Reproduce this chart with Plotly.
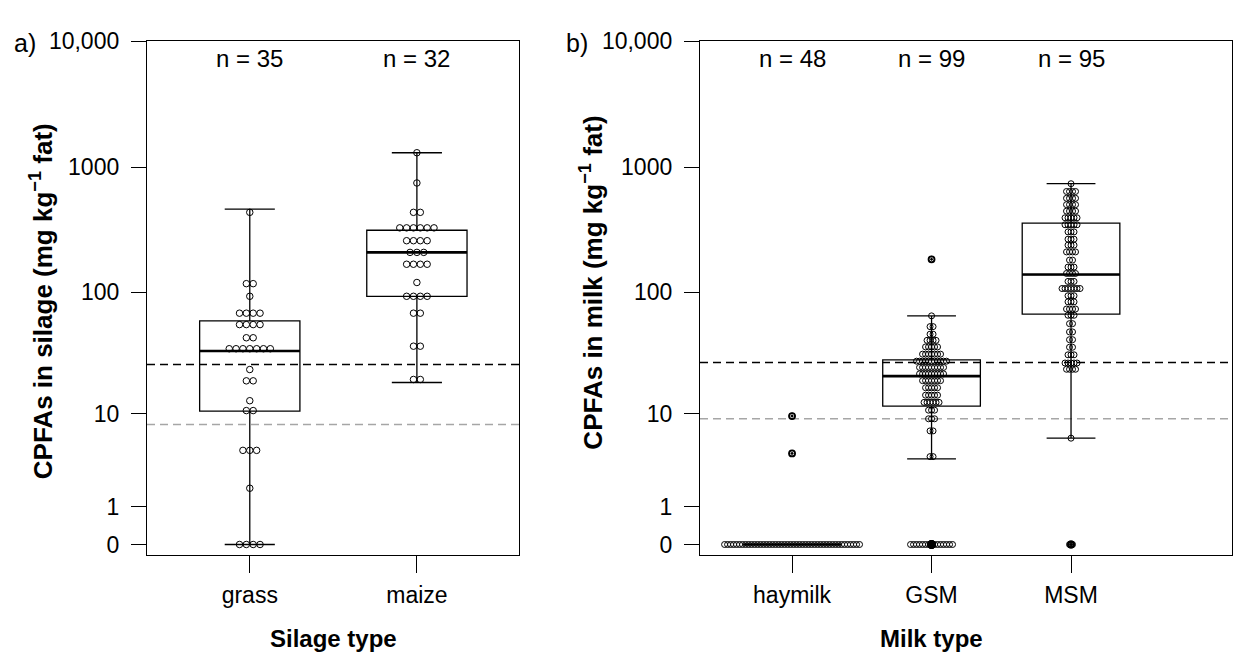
import numpy as np
import plotly.graph_objects as go

W, H = 1234, 652

# ---------------- data ----------------
silage_types = ["grass", "maize"]
silage_n = [35, 32]
grass_values = [436, 117.5, 117.5, 93, 68, 68, 68, 68, 55, 55, 55, 55, 43, 43,
                35, 35, 35, 35, 35, 35, 35, 23.6, 19, 19, 12.9, 10.6, 10.6,
                4.6, 4.6, 4.6, 1.8, 0, 0, 0, 0]
maize_values = [1300, 747, 436, 436, 328, 328, 328, 328, 328, 328, 259, 259, 259, 259,
                209, 209, 209, 168, 168, 168, 168, 120, 93, 93, 93, 93, 68, 68,
                36.7, 36.7, 19.5, 19.5]
silage_q1 = [10.5, 93]
silage_median = [33.5, 209]
silage_q3 = [59, 314]
silage_lower = [0, 18.4]
silage_upper = [462, 1300]
silage_ref_black = 26
silage_ref_gray = 8

milk_types = ["haymilk", "GSM", "MSM"]
milk_n = [48, 99, 95]
haymilk_values = [0, 0, 0, 0, 0, 0, 0, 0, 0, 0, 0, 0, 0, 0, 0, 0, 0, 0, 0, 0, 0, 0, 0,
                  0, 0, 0, 0, 0, 0, 0, 0, 0, 0, 0, 0, 0, 0, 0, 0, 0, 0, 0, 0, 0, 0, 0,
                  4.3, 9.5]
gsm_values = [0, 0, 0, 0, 0, 0, 0, 0, 0, 0, 0, 0, 0, 0, 0,
              3.8, 4.2, 6.8, 7.2, 8.5, 9.0, 9.5, 10.2, 10.8, 11.2,
              11.8, 12.0, 12.3, 12.5, 13.0, 13.2, 13.6, 14.0, 14.5, 15.0, 15.2, 15.8, 16.3,
              16.8, 17.0, 17.5, 18.0, 18.3, 18.8, 19.2, 19.5, 19.8, 20.2, 20.5, 20.8,
              21.0, 21.3, 21.5, 22.0, 22.2, 22.5, 23.0, 23.2, 23.5, 24.0, 24.3, 24.5, 25.0,
              25.2, 25.5, 26.0, 26.2, 26.5, 27.0, 27.2, 27.5, 27.8, 28.0, 28.2, 28.4,
              28.8, 29.2, 29.8, 30.5, 31.0, 31.5, 32.0, 33.0, 33.5, 34.5, 35.0, 36.0,
              37.0, 38.0, 39.0, 40.5, 42.0, 43.0, 45.0, 47.0, 51.0, 55.0, 64.7, 184]
msm_values = [0, 0, 6.0,
              22.5, 23.5, 24.5, 25.0, 25.5, 26.0, 26.5, 27.0, 28.0, 29.5, 31.0, 33.0,
              35.0, 37.0, 40.0, 43.0, 46.0, 50.0, 54.0, 58.0, 62.0,
              67, 69, 71, 73, 74, 76, 80, 85, 88, 90, 94, 98, 102, 104, 106, 107, 108,
              110, 113, 117, 122, 128, 134, 139,
              145, 150, 154, 158, 165, 175, 188, 200, 210, 218, 222, 228, 238, 250, 258,
              265, 275, 290, 305, 320, 330, 340, 350, 358,
              365, 378, 390, 395, 402, 412, 425, 440, 455, 468, 480, 495, 510, 525, 540,
              555, 570, 590, 610, 625, 640, 670, 737]
milk_q1 = [0, 11.6, 66.7]
milk_median = [0, 20.8, 139]
milk_q3 = [0, 28.4, 358]
milk_lower = [0, 3.8, 6.0]
milk_upper = [0, 64.7, 737]
milk_ref_black = 27
milk_ref_gray = 9

y_tick_values = [0, 1, 10, 100, 1000, 10000]
y_tick_labels = ["0", "1", "10", "100", "1000", "10,000"]

# ---------------- helpers ----------------
FONT = "Liberation Sans, Arial, sans-serif"


def tr(v):
    return np.log10(np.asarray(v, dtype=float) + 1.0)


def px_x(p):
    return p / W


def px_y(p):
    return 1 - p / H


def stack_dots(values, center, binw, step):
    t = np.sort(tr(values))
    xs, ys = [], []
    i = 0
    while i < len(t):
        j = i
        while j < len(t) and t[j] - t[i] <= binw:
            j += 1
        grp = t[i:j]
        yc = (grp[0] + grp[-1]) / 2
        k = len(grp)
        for m in range(k):
            xs.append(center + (m - (k - 1) / 2) * step)
            ys.append(yc)
        i = j
    return xs, ys


fig = go.Figure()


def add_panel(xa, ya, cats, groups, q1, med, q3, lo, hi, boxw, dotstep, dotsize, binw):
    pos = list(range(len(cats)))
    fig.add_trace(go.Box(
        x=pos, q1=tr(q1), median=tr(med), q3=tr(q3),
        lowerfence=tr(lo), upperfence=tr(hi),
        width=boxw, whiskerwidth=0.5, boxpoints=False,
        fillcolor="rgba(0,0,0,0)", line=dict(color="black", width=1.3),
        xaxis=xa, yaxis=ya, showlegend=False, hoverinfo="skip"))
    mx, my = [], []
    for c, m in zip(pos, med):
        mx += [c - boxw / 2, c + boxw / 2, None]
        my += [float(tr(m)), float(tr(m)), None]
    fig.add_trace(go.Scatter(x=mx, y=my, mode="lines",
                             line=dict(color="black", width=2.6),
                             xaxis=xa, yaxis=ya, showlegend=False, hoverinfo="skip"))
    dx, dy, ox, oy = [], [], [], []
    for c, vals, l, h in zip(pos, groups, lo, hi):
        xs, ys = stack_dots(vals, c, binw, dotstep)
        dx += xs
        dy += ys
        for v in vals:
            if v < l or v > h:
                ox.append(c)
                oy.append(float(tr(v)))
    fig.add_trace(go.Scatter(x=dx, y=dy, mode="markers",
                             marker=dict(symbol="circle-open", size=dotsize, color="black",
                                         line=dict(width=1)),
                             xaxis=xa, yaxis=ya, showlegend=False, hoverinfo="skip"))
    if ox:
        fig.add_trace(go.Scatter(x=ox, y=oy, mode="markers",
                                 marker=dict(symbol="circle-open-dot", size=dotsize,
                                             color="black", line=dict(width=1.8)),
                                 xaxis=xa, yaxis=ya, showlegend=False, hoverinfo="skip"))


add_panel("x", "y", silage_types, [grass_values, maize_values],
          silage_q1, silage_median, silage_q3, silage_lower, silage_upper,
          0.6, 0.041, 6.5, 0.03)
add_panel("x2", "y2", milk_types, [haymilk_values, gsm_values, msm_values],
          milk_q1, milk_median, milk_q3, milk_lower, milk_upper,
          0.7, 0.0215, 6, 0.05)

ydom = [px_y(555), px_y(29)]
yrange = [-0.0854, 4.0]

common_y = dict(range=yrange, domain=ydom, tickvals=list(tr(y_tick_values)),
                ticktext=y_tick_labels, ticks="outside", ticklen=15, tickwidth=1.3,
                tickcolor="black", showline=True, linecolor="black", linewidth=1.3,
                showgrid=False, zeroline=False, ticklabelstandoff=7,
                tickfont=dict(family=FONT, size=23, color="black"))
common_x = dict(ticks="outside", ticklen=17, tickwidth=1.3, tickcolor="black",
                showline=True, linecolor="black", linewidth=1.3, showgrid=False,
                zeroline=False, ticklabelstandoff=2,
                tickfont=dict(family=FONT, size=23, color="black"))

fig.update_layout(
    width=W, height=H, margin=dict(l=0, r=0, t=0, b=0),
    paper_bgcolor="white", plot_bgcolor="white", showlegend=False,
    xaxis=dict(common_x, domain=[px_x(147), px_x(519)], range=[-0.615, 1.611],
               tickvals=[0, 1], ticktext=silage_types, anchor="y", mirror=True),
    yaxis=dict(common_y, anchor="x", mirror=True),
    xaxis2=dict(common_x, domain=[px_x(700), px_x(1232)], range=[-0.66, 3.154],
                tickvals=[0, 1, 2], ticktext=milk_types, anchor="y2", mirror=True),
    yaxis2=dict(common_y, anchor="x2", mirror=True),
)

shapes = []
for xr, yr, vb, vg in [("x domain", "y", silage_ref_black, silage_ref_gray),
                       ("x2 domain", "y2", milk_ref_black, milk_ref_gray)]:
    shapes.append(dict(type="line", xref=xr, yref=yr, x0=0, x1=1,
                       y0=float(tr(vb)), y1=float(tr(vb)), layer="below",
                       line=dict(color="black", width=1.4, dash="8px,5px")))
    shapes.append(dict(type="line", xref=xr, yref=yr, x0=0, x1=1,
                       y0=float(tr(vg)), y1=float(tr(vg)), layer="below",
                       line=dict(color="#a6a6a6", width=1.6, dash="8px,5px")))
fig.update_layout(shapes=shapes)

TXT = dict(family=FONT, size=24, color="black")
TITLE_Y = dict(family=FONT, size=26, color="black")
ann = []
for i, n in enumerate(silage_n):
    ann.append(dict(x=i, xref="x", y=px_y(47), yref="paper", text=f"n = {n}",
                    xanchor="center", yanchor="middle", showarrow=False, font=TXT))
for i, n in enumerate(milk_n):
    ann.append(dict(x=i, xref="x2", y=px_y(47), yref="paper", text=f"n = {n}",
                    xanchor="center", yanchor="middle", showarrow=False, font=TXT))
ann.append(dict(x=px_x(12), y=px_y(31), xref="paper", yref="paper", text="a)",
                xanchor="left", yanchor="middle", showarrow=False,
                font=dict(family=FONT, size=25, color="black")))
ann.append(dict(x=px_x(564), y=px_y(31), xref="paper", yref="paper", text="b)",
                xanchor="left", yanchor="middle", showarrow=False,
                font=dict(family=FONT, size=25, color="black")))
ann.append(dict(x=px_x(41), y=px_y(295), xref="paper", yref="paper",
                text="<b>CPFAs in silage (mg kg<sup>−1</sup> fat)</b>", textangle=-90,
                xanchor="center", yanchor="middle", showarrow=False, font=TITLE_Y))
ann.append(dict(x=px_x(592), y=px_y(276), xref="paper", yref="paper",
                text="<b>CPFAs in milk (mg kg<sup>−1</sup> fat)</b>", textangle=-90,
                xanchor="center", yanchor="middle", showarrow=False, font=TITLE_Y))
ann.append(dict(x=0.5, xref="x domain", y=px_y(640), yref="paper",
                text="<b>Silage type</b>", xanchor="center", yanchor="middle",
                showarrow=False, font=TXT))
ann.append(dict(x=1, xref="x2", y=px_y(640), yref="paper",
                text="<b>Milk type</b>", xanchor="center", yanchor="middle",
                showarrow=False, font=TXT))
fig.update_layout(annotations=ann)

fig.write_html("out.html")
